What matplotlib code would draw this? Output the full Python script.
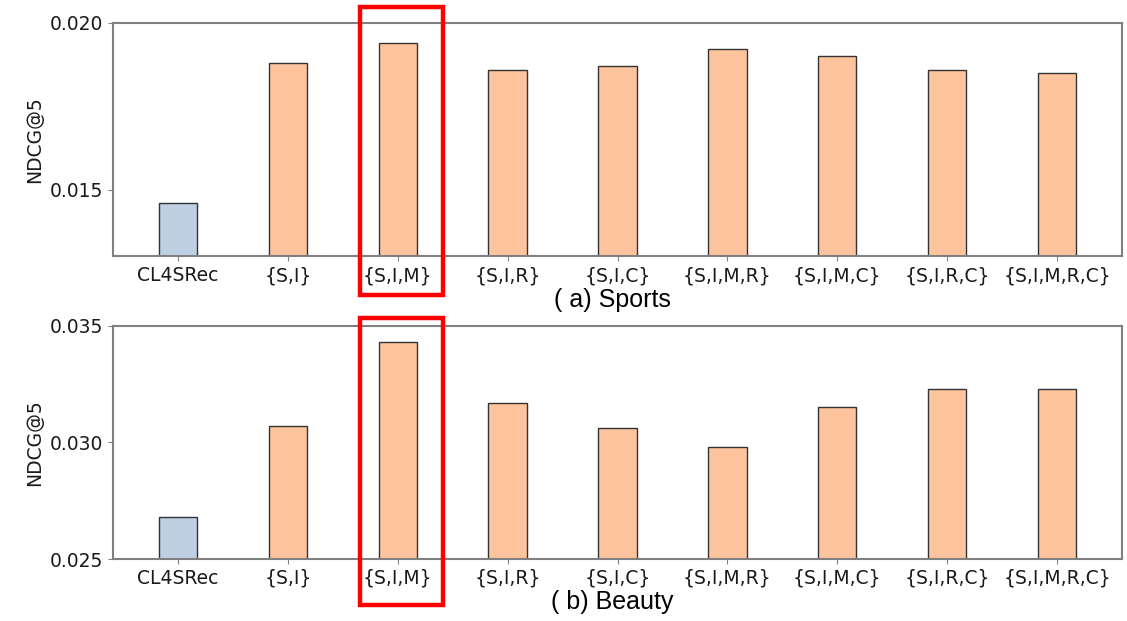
import matplotlib
matplotlib.use("Agg")
import matplotlib.pyplot as plt
from matplotlib.patches import Rectangle

plt.rcParams["font.family"] = ["DejaVu Sans"]

categories = ["CL4SRec", "{S,I}", "{S,I,M}", "{S,I,R}", "{S,I,C}",
              "{S,I,M,R}", "{S,I,M,C}", "{S,I,R,C}", "{S,I,M,R,C}"]
sports_ndcg5 = [0.01459, 0.0188, 0.0194, 0.01859, 0.0187,
                0.01921, 0.0190, 0.01859, 0.0185]
beauty_ndcg5 = [0.0268, 0.0307, 0.0343, 0.0317, 0.0306,
                0.0298, 0.0315, 0.0323, 0.0323]
sports_ticks = [0.015, 0.020]
beauty_ticks = [0.025, 0.030, 0.035]
captions = ["( a) Sports", "( b) Beauty"]

BASE_COLOR = "#bfcfe4"
VARIANT_COLOR = "#fec49d"
EDGE_COLOR = "#333333"
SPINE_COLOR = "#808080"

fig = plt.figure(figsize=(11.27, 6.21), dpi=100)
ax_top = fig.add_axes([0.1003, 0.587, 0.8953, 0.376])
ax_bot = fig.add_axes([0.1003, 0.0994, 0.8953, 0.3761])

panels = [
    (ax_top, sports_ndcg5, sports_ticks, (0.013, 0.020)),
    (ax_bot, beauty_ndcg5, beauty_ticks, (0.025, 0.035)),
]

x = list(range(len(categories)))
colors = [BASE_COLOR] + [VARIANT_COLOR] * (len(categories) - 1)

for ax, vals, ticks, ylim in panels:
    ax.bar(x, vals, width=0.35, color=colors, edgecolor=EDGE_COLOR, linewidth=1.0)
    ax.set_ylim(*ylim)
    ax.set_yticks(ticks)
    ax.set_yticklabels([f"{t:.3f}" for t in ticks])
    ax.set_xticks(x)
    ax.set_xticklabels(categories)
    ax.tick_params(axis="both", labelsize=13.5, color=SPINE_COLOR, labelcolor="#1a1a1a")
    ax.set_ylabel("NDCG@5", fontsize=13.5, color="#1a1a1a")
    ax.yaxis.set_label_coords(-0.068, 0.5)
    for sp in ax.spines.values():
        sp.set_color(SPINE_COLOR)
        sp.set_linewidth(1.5)

# panel captions
fig.text(0.543, 1 - 300 / 621, captions[0], ha="center", va="center",
         fontsize=18, family="Liberation Sans", color="black")
fig.text(0.543, 1 - 602 / 621, captions[1], ha="center", va="center",
         fontsize=18, family="Liberation Sans", color="black")

# highlight boxes around the {S,I,M} column
W, H = 1127, 621
for top_px, bot_px in [(7, 295), (318, 605)]:
    fig.add_artist(Rectangle((360 / W, 1 - bot_px / H), (443 - 360) / W,
                             (bot_px - top_px) / H, transform=fig.transFigure,
                             fill=False, edgecolor="#ff0000", linewidth=3.2))

fig.savefig("out.png", dpi=100)
